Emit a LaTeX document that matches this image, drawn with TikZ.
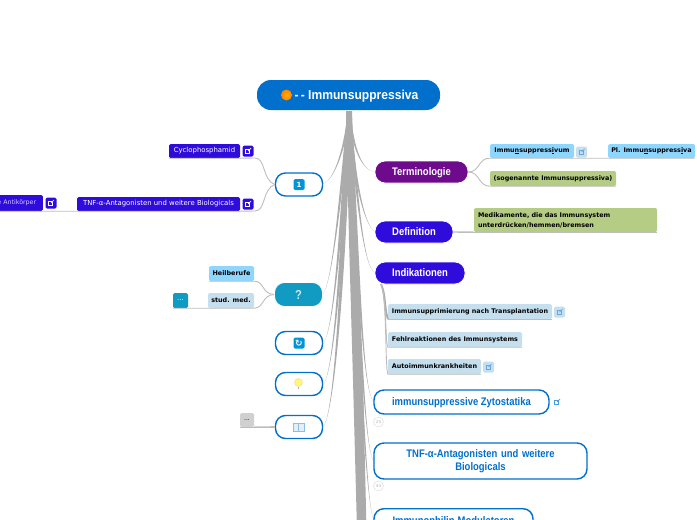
\documentclass[tikz,border=0pt]{standalone}
\usepackage{fontspec}
\setmainfont{DejaVu Sans}
\newfontfamily\headfont[FakeStretch=0.86]{Liberation Sans}
\newfontfamily\rootfont[FakeStretch=0.93]{Liberation Sans}
\usetikzlibrary{calc}

\definecolor{rootblue}{HTML}{0070CC}
\definecolor{indigo}{HTML}{2F0CDC}
\definecolor{violet}{HTML}{6E0A8C}
\definecolor{teal}{HTML}{129BC2}
\definecolor{skyfill}{HTML}{8FD6FF}
\definecolor{palefill}{HTML}{C6DFEE}
\definecolor{olivefill}{HTML}{B5CC85}
\definecolor{greyfill}{HTML}{D0D0D0}
\definecolor{trunk}{HTML}{ABABAB}
\definecolor{wire}{HTML}{BDBDBD}

\tikzset{
 pill/.style={rounded corners=#1, inner sep=0pt, align=center, text depth=0pt, font=\headfont\bfseries\fontsize{11}{13}\selectfont},
 pill/.default=10pt,
 mainbox/.style={pill, fill=#1, text=white, draw=white, line width=.8pt},
 outlinebox/.style={pill, draw=rootblue, fill=white, line width=1.4pt, text=rootblue},
 leafbox/.style={rounded corners=1.5pt, inner sep=0pt, fill=#1, font=\bfseries\fontsize{6.4}{10}\selectfont, align=left},
 darkbox/.style={leafbox=#1, text=white, font=\fontsize{6.9}{9}\selectfont},
 iconbox/.style={rounded corners=1.5pt, fill=#1, minimum size=11pt, inner sep=0pt},
 wireline/.style={draw=wire, line width=.9pt},
 countmark/.style={circle, draw=gray!30, fill=white, inner sep=0pt, minimum size=10pt, font=\fontsize{4}{4}\selectfont, text=gray!60},
}

% tapered branch from a point (thick end) to a node (thin end)
\newcommand{\taper}[5]{
 \fill[trunk] ($(#1)+(-#3,0)$) .. controls ($(#4)+(-#3,0)$) and (#5) .. (#2)
  .. controls (#5) and ($(#4)+(#3,0)$) .. ($(#1)+(#3,0)$) -- cycle;
}
% external link glyph
\newcommand{\linkicon}[4]{
 \node[iconbox=#2] (#1) at (#3) {};
 \draw[#4, line width=.7pt] ($(#1)+(-2.5,-1.5)$) rectangle ($(#1)+(1.5,2.5)$);
 \draw[#4, line width=.7pt] (#1.center) -- ($(#1)+(3,-3)$);
}
% letter with a short stroke right under it
\newcommand{\marked}[1]{\setbox0\hbox{#1}\rlap{\rule[-.8pt]{\wd0}{.4pt}}\box0 }

\begin{document}
\begin{tikzpicture}[x=1pt,y=-1pt]
 \useasboundingbox (0,0) rectangle (697,520);

 % centre
 \coordinate (hub) at (349,111);

 % left and right groups
 \coordinate (w1) at (323,184);
 \coordinate (w2) at (323,294);
 \coordinate (w3) at (323,344);
 \coordinate (w4) at (323,385);
 \coordinate (w5) at (323,427);
 \coordinate (e1) at (375,172);
 \coordinate (e2) at (375,232);
 \coordinate (e3) at (375,273);
 \coordinate (e4) at (374,402);
 \coordinate (e5) at (374,461);
 \coordinate (e6) at (374,520);

 % connectors of the hub
 \taper{hub}{w1}{1.2}{345,150}{334,180}
 \taper{hub}{w2}{1.5}{341,190}{333,280}
 \taper{hub}{w3}{1.8}{341,230}{334,330}
 \taper{hub}{w4}{2.0}{342,260}{334,372}
 \taper{hub}{w5}{2.2}{343,290}{334,415}
 \taper{hub}{e1}{1.2}{353,150}{362,170}
 \taper{hub}{e2}{1.5}{354,180}{364,225}
 \taper{hub}{e3}{1.5}{356,180}{362,266}
 \taper{hub}{e4}{2.0}{358,250}{362,395}
 \taper{hub}{e5}{2.0}{358,290}{364,455}
 \taper{hub}{e6}{2.0}{358,330}{366,510}
 \fill[trunk] (346,111) -- (352,111) -- (357,240) -- (363,380) -- (366.5,530) -- (357,530) -- (353,380) -- (349,240) -- cycle;

 % top
 \node[pill=14pt, fill=rootblue, text=white, minimum width=183pt, minimum height=30pt,
  font=\rootfont\bfseries\fontsize{13}{15}\selectfont] (root) at (348.5,95) {\hspace*{16pt}-\,- Immunsuppressiva};
 \node[circle, inner sep=0pt, minimum size=11pt, inner color=orange!60!yellow, outer color=orange] (dot) at (286.5,95) {};

 % left side
 \node[outlinebox, minimum width=47pt, minimum height=23pt] (num) at (299,184.5) {};
 \node[iconbox=rootblue!75!cyan, minimum size=11pt, text=white, font=\bfseries\fontsize{7}{7}\selectfont] (numI) at (299,184.5) {1};
 \node[mainbox=teal, minimum width=48pt, minimum height=24pt, text=white!75!teal, font=\headfont\bfseries\fontsize{13}{13}\selectfont] (quest) at (298.5,294.5) {?};
 \node[outlinebox, minimum width=47pt, minimum height=23pt] (sync) at (299,343) {};
 \node[iconbox=rootblue!75!cyan, text=white, font=\bfseries\fontsize{9}{9}\selectfont] (syncI) at (299,343) {↻};
 \node[outlinebox, minimum width=47pt, minimum height=23pt] (bulb) at (299,384) {};
 \node[circle, fill=yellow!55, draw=orange!40, inner sep=0pt, minimum size=8pt] (bulbI) at (298.5,382.5) {};
 \draw[gray!60, line width=1.5pt] (bulbI.south) -- ++(0,2.5);
 \node[outlinebox, minimum width=47pt, minimum height=23pt] (book) at (299,427) {};
 \node[draw=rootblue!45, fill=palefill!50, inner sep=0pt, minimum width=11pt, minimum height=8pt] (bookI) at (298.5,427) {};
 \draw[rootblue!45] (bookI.north) -- (bookI.south);

 \node[darkbox=indigo, minimum width=71pt, minimum height=14pt] (cyc) at (204.5,151) {Cyclophosphamid};
 \linkicon{ilink}{indigo}{248,151}{white}
 \node[darkbox=indigo, minimum width=163pt, minimum height=14pt] (tnf) at (158.5,204) {TNF-α-Antagonisten und weitere Biologicals};
 \linkicon{jlink}{indigo}{248,204}{white}
 \node[darkbox=indigo, anchor=east, minimum height=16pt, minimum width=52pt, font=\fontsize{6.3}{8}\selectfont] (anti) at (43,203) {\textcolor{white!80!indigo}{e Antikörper}};
 \linkicon{klink}{indigo}{51,203}{white}

 \node[leafbox=skyfill, minimum width=45pt, minimum height=15pt] (heil) at (231.5,273.5) {Heilberufe};
 \node[leafbox=palefill, minimum width=46pt, minimum height=15pt] (stud) at (231,300.5) {stud. med.};
 \node[darkbox=teal, minimum width=15pt, minimum height=15pt] (more) at (180.5,300.5) {...};
 \node[leafbox=greyfill, minimum width=14pt, minimum height=14pt, font=\fontsize{6}{6}\selectfont] (note) at (247,420) {...};

 % left connectors
 \draw[wireline] (cyc.south west) -- (cyc.south east) -- (255,158) .. controls (266,158) and (262,180) .. (num.west);
 \draw[wireline] (anti.south west) -- (anti.south east) -- (tnf.south west) -- (tnf.south east) -- (255,211) .. controls (266,211) and (262,189) .. (num.west);
 \draw[wireline] (heil.south west) -- (heil.south east) .. controls (264,281) and (262,294) .. (quest.west);
 \draw[wireline] (more.south west) -- (stud.south east) .. controls (264,308) and (262,295) .. (quest.west);
 \draw[wireline, line width=1.6pt] (note.south east) -- (book.west);
 \draw[wireline] (note.south west) -- (note.south east);

 % right side
 \node[mainbox=violet, minimum width=93pt, minimum height=22pt] (term) at (421.5,172) {Terminologie};
 \node[mainbox=indigo, minimum width=78pt, minimum height=22pt] (defn) at (414,232) {Definition};
 \node[mainbox=indigo, minimum width=90pt, minimum height=22pt] (indik) at (420,273) {Indikationen};

 \node[leafbox=skyfill, minimum width=84pt, minimum height=14pt] (sing) at (532,151) {Immu\marked{n}suppress\marked{i}vum};
 \linkicon{plink}{palefill}{581.5,152}{rootblue!60}
 \node[leafbox=skyfill, minimum width=87pt, minimum height=14pt] (plur) at (651.5,151) {Pl. Immu\marked{n}suppress\marked{i}va};
 \node[leafbox=olivefill, minimum width=126pt, minimum height=15pt] (sogen) at (553,178.5) {(sogenannte Immunsuppressiva)};
 \node[leafbox=olivefill, minimum width=183pt, minimum height=24pt, text width=175pt] (medi) at (565.5,220) {Medikamente, die das Immunsystem\\unterdrücken/hemmen/bremsen};
 \node[leafbox=palefill, minimum width=164pt, minimum height=15pt] (trans) at (470,311.5) {Immunsupprimierung nach Transplantation};
 \linkicon{qlink}{palefill}{559.5,312}{rootblue!60}
 \node[leafbox=palefill, minimum width=134pt, minimum height=15pt] (fehl) at (455,339.5) {Fehlreaktionen des Immunsystems};
 \node[leafbox=palefill, minimum width=93pt, minimum height=15pt] (auto) at (434.5,366.5) {Autoimmunkrankheiten};
 \linkicon{rlink}{palefill}{488.5,367}{rootblue!60}

 % right connectors
 \draw[wireline] (term.east) .. controls (480,172) and (478,158) .. (sing.south west) -- (plur.south east);
 \draw[wireline] (term.east) .. controls (480,172) and (478,186) .. (sogen.south west) -- (sogen.south east);
 \draw[wireline, line width=1.4pt] (defn.east) -- (medi.south west);
 \draw[wireline, line width=.7pt] (medi.south west) -- (medi.south east);
 \coordinate (drop) at (381,284);
 \draw[trunk, line width=1.8pt] (drop) .. controls (386,295) and (384,305) .. (trans.south west);
 \draw[wireline] (trans.south west) -- (trans.south east);
 \draw[wireline] (drop) .. controls (387,300) and (385,340) .. (fehl.south west) -- (fehl.south east);
 \draw[wireline] (drop) .. controls (387,300) and (385,365) .. (auto.south west) -- (auto.south east);

 \node[outlinebox, minimum width=175pt, minimum height=24pt] (zyto) at (461.5,402) {immunsuppressive Zytostatika};
 \linkicon{zytoL}{white}{557,402}{rootblue!70}
 \node[countmark] (cnt1) at (378.5,422) {25};
 \node[outlinebox, minimum width=213pt, minimum height=36pt, text width=180pt, text depth=] (biolog) at (480.5,461) {TNF-α-Antagonisten und weitere\\Biologicals};
 \node[countmark] (cnt2) at (378.5,486) {44};
 \node[outlinebox, minimum width=159pt, minimum height=24pt, anchor=north] (immuno) at (453.5,508) {Immunophilin-Modulatoren};
\end{tikzpicture}
\end{document}
